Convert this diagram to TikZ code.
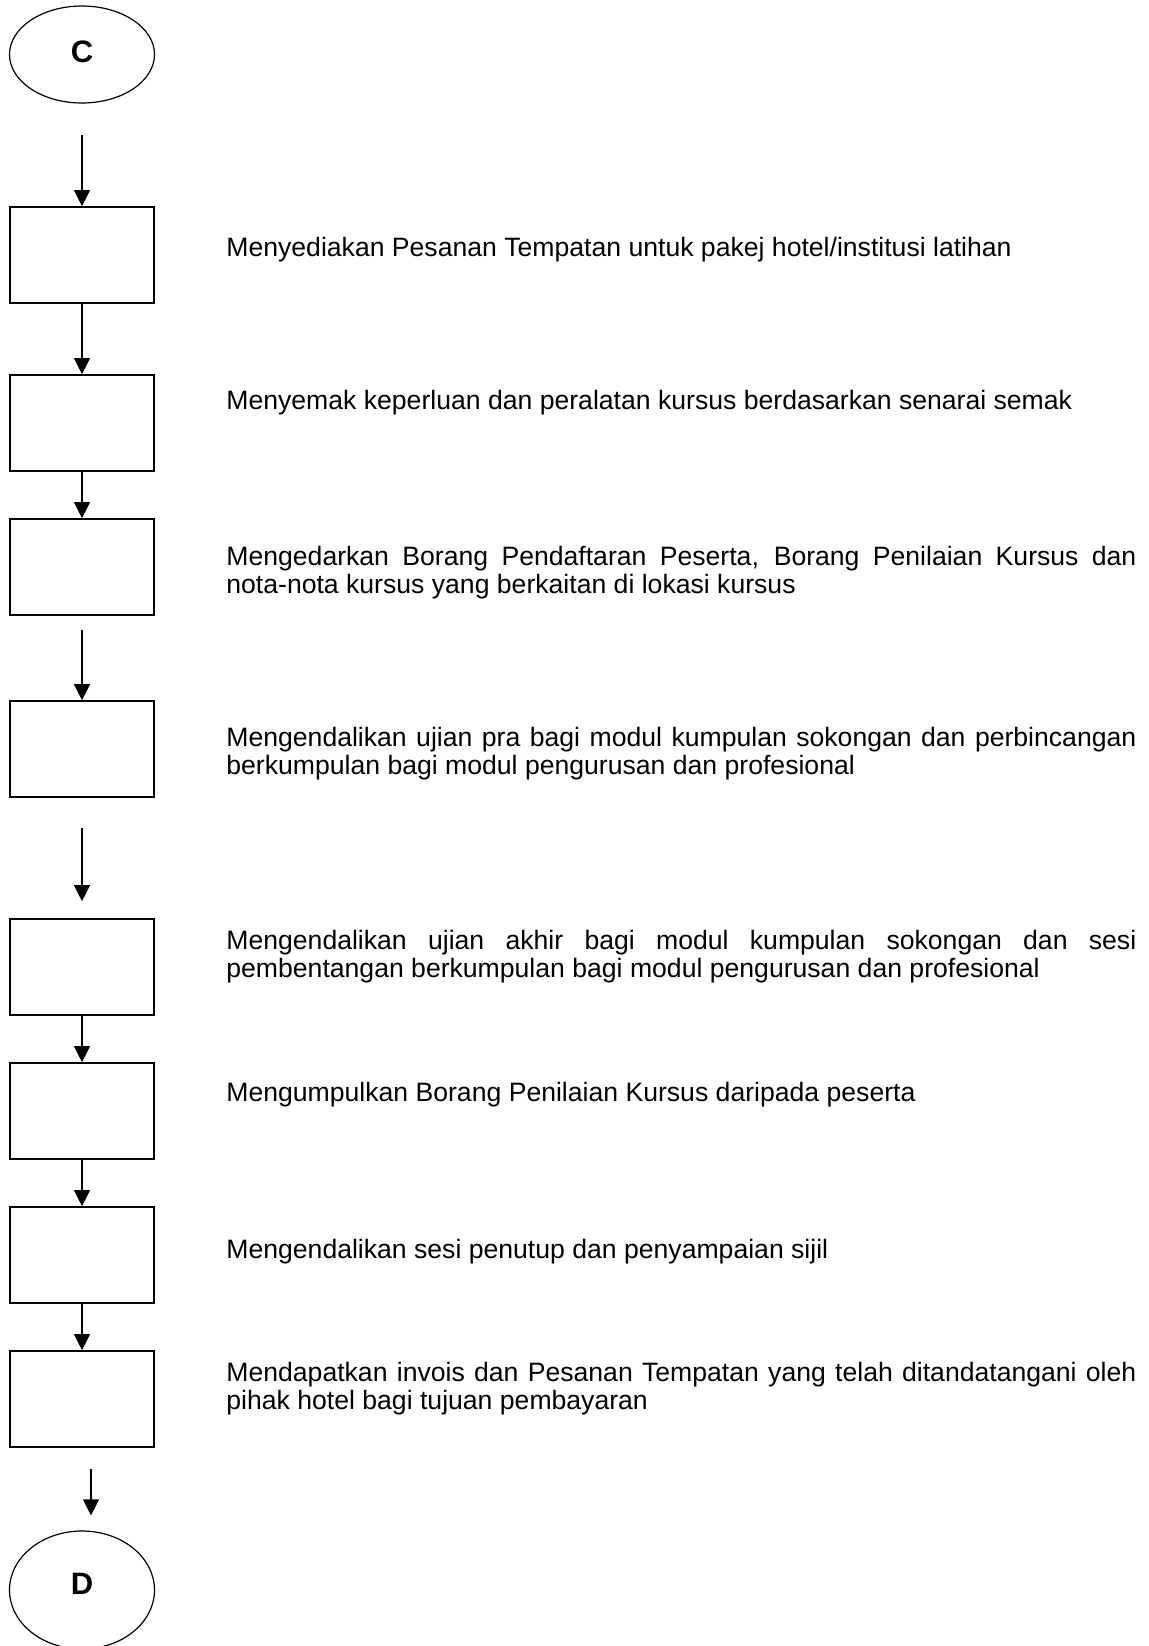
\documentclass[tikz,border=0pt]{standalone}
\usepackage{fontspec}
\setmainfont{Liberation Sans}
\usetikzlibrary{arrows.meta,positioning,shapes.geometric}
\tikzset{
	>=Triangle,
	stepbox/.style={
		draw,
		line width=0.85pt,
		minimum width=72pt,
		minimum height=48pt,
		inner sep=0pt
	},
	pageconn/.style={
		ellipse,
		draw,
		line width=0.6pt,
		minimum width=72.5pt,
		inner sep=0pt,
		font=\fontsize{15.5}{18}\selectfont\bfseries
	},
	desc/.style={
		anchor=base west,
		inner sep=0pt,
		font=\fontsize{13.3}{14.2}\selectfont
	},
	desclong/.style={
		desc,
		text width=455pt,
		align=justify
	},
	conn/.style={
		-{Triangle[length=8pt,width=8pt]},
		line width=0.65pt
	}
}

\begin{document}
\begin{tikzpicture}[x=0.5pt,y=-0.5pt]
	\useasboundingbox (0,0) rectangle (1148,1646);
	
	% --- OFF-PAGE CONNECTORS ---
	\node[pageconn, minimum height=48.5pt] (C) at (82,54.5) {\raisebox{3.2pt}{C}};
	\node[pageconn, minimum height=59pt] (D) at (82,1590) {\raisebox{6.5pt}{D}};
	
	% --- STEP BOXES ---
	\node[stepbox] (b1) at (82, 255) {};
	\node[stepbox] (b2) at (82, 423) {};
	\node[stepbox] (b3) at (82, 567) {};
	\node[stepbox] (b4) at (82, 749) {};
	\node[stepbox] (b5) at (82, 967) {};
	\node[stepbox] (b6) at (82,1111) {};
	\node[stepbox] (b7) at (82,1255) {};
	\node[stepbox] (b8) at (82,1399) {};
	
	% --- DESCRIPTIONS ---
	\node[desc] (t1) at (226, 256) {Menyediakan Pesanan Tempatan untuk pakej hotel/institusi latihan};
	\node[desc] (t2) at (226, 409) {Menyemak keperluan dan peralatan kursus berdasarkan senarai semak};
	\node[desclong] (t3) at (226, 565) {Mengedarkan Borang Pendaftaran Peserta, Borang Penilaian Kursus dan\linebreak nota-nota kursus yang berkaitan di lokasi kursus};
	\node[desclong] (t4) at (226, 746.5) {Mengendalikan ujian pra bagi modul kumpulan sokongan dan perbincangan\linebreak berkumpulan bagi modul pengurusan dan profesional};
	\node[desclong] (t5) at (226, 949) {Mengendalikan ujian akhir bagi modul kumpulan sokongan dan sesi\linebreak pembentangan berkumpulan bagi modul pengurusan dan profesional};
	\node[desc] (t6) at (226,1101) {Mengumpulkan Borang Penilaian Kursus daripada peserta};
	\node[desc] (t7) at (226,1258) {Mengendalikan sesi penutup dan penyampaian sijil};
	\node[desclong] (t8) at (226,1381) {Mendapatkan invois dan Pesanan Tempatan yang telah ditandatangani oleh\linebreak pihak hotel bagi tujuan pembayaran};
	
	% --- CONNECTIONS ---
	\draw[conn, shorten <=15.5pt] (C) -- (b1);
	\foreach \i/\j in {b1/b2,b2/b3,b5/b6,b6/b7,b7/b8} {
		\draw[conn] (\i) -- (\j);
	}
	\draw[conn, shorten <=7pt] (b3) -- (b4);
	\draw[conn, shorten <=15pt, shorten >=8.5pt] (b4) -- (b5);
	
	% last arrow sits a little to the right
	\draw[conn, shorten <=10.5pt, shorten >=7.5pt] ([xshift=4.5pt]b8.south) -- ([xshift=4.5pt]D.north);
	
\end{tikzpicture}
\end{document}
